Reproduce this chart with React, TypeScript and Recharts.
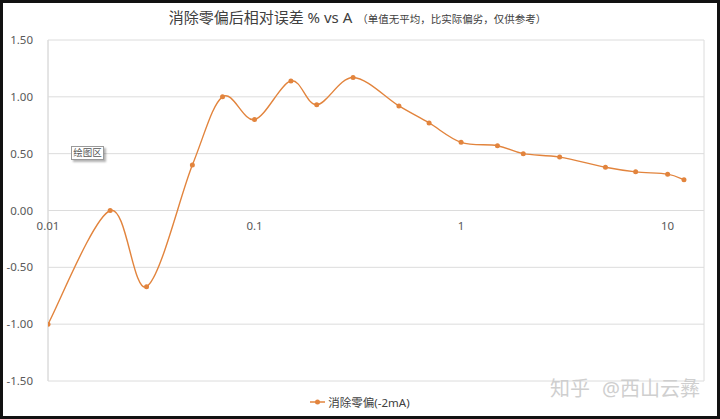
import React from 'react';
import { LineChart, Line, XAxis, YAxis, CartesianGrid, ReferenceDot, Legend } from 'recharts';

// Current in A (log axis) and relative error in % after zero-offset removal
const currents = [0.01, 0.02, 0.03, 0.05, 0.07, 0.1, 0.15, 0.2, 0.3, 0.5, 0.7, 1, 1.5, 2, 3, 5, 7, 10, 12];
const relErrors = [-1.0, 0.0, -0.67, 0.4, 1.0, 0.8, 1.14, 0.93, 1.17, 0.92, 0.77, 0.6, 0.57, 0.5, 0.47, 0.38, 0.34, 0.32, 0.27];
const xTicks = [0.01, 0.1, 1, 10];
const yTicks = [-1.5, -1.0, -0.5, 0, 0.5, 1.0, 1.5];
const seriesName = '消除零偏(-2mA)';

const rows = currents.map((a, i) => ({ a, err: relErrors[i] }));

const ORANGE = '#E2843D';
const GRID = '#DCDCDC';
const TEXT = '#595959';
const FONT = '"Noto Sans", "Noto Sans CJK SC", sans-serif';

// Spreadsheet-style smoothed line: Catmull-Rom segments through every point
function smoothCurve(context: any) {
  let pts: [number, number][] = [];
  return {
    areaStart() {},
    areaEnd() {},
    lineStart() {
      pts = [];
    },
    point(x: number, y: number) {
      pts.push([+x, +y]);
    },
    lineEnd() {
      const n = pts.length;
      if (!n) return;
      context.moveTo(pts[0][0], pts[0][1]);
      for (let i = 0; i < n - 1; i++) {
        const p0 = pts[Math.max(0, i - 1)];
        const p1 = pts[i];
        const p2 = pts[i + 1];
        const p3 = pts[Math.min(n - 1, i + 2)];
        context.bezierCurveTo(
          p1[0] + (p2[0] - p0[0]) / 6,
          p1[1] + (p2[1] - p0[1]) / 6,
          p2[0] - (p3[0] - p1[0]) / 6,
          p2[1] - (p3[1] - p1[1]) / 6,
          p2[0],
          p2[1]
        );
      }
    },
  };
}

const LegendContent = () => (
  <div style={{ display: 'flex', justifyContent: 'center', alignItems: 'center', height: 18, fontFamily: FONT, fontSize: 11.5, color: '#404040' }}>
    <svg width={15} height={8} style={{ marginRight: 3 }}>
      <line x1={0} y1={4} x2={15} y2={4} stroke={ORANGE} strokeWidth={1.5} />
      <circle cx={7.5} cy={4} r={2.5} fill={ORANGE} />
    </svg>
    <span>{seriesName}</span>
  </div>
);

export default function App() {
  return (
    <div style={{ position: 'absolute', left: 0, top: 0, width: 720, height: 419, background: '#fff', overflow: 'hidden' }}>
      <div
        style={{
          position: 'absolute',
          top: 6,
          left: 0,
          width: 715,
          textAlign: 'center',
          fontFamily: FONT,
          color: '#404040',
          lineHeight: '22px',
          whiteSpace: 'nowrap',
        }}
      >
        <span style={{ fontSize: 15 }}>消除零偏后相对误差 % vs A</span>
        <span style={{ fontSize: 10.5, marginLeft: 5 }}>（单值无平均，比实际偏劣，仅供参考）</span>
      </div>
      <LineChart width={720} height={419} data={rows} margin={{ top: 40, right: 16, bottom: 20, left: 0 }}>
        <CartesianGrid stroke={GRID} horizontal vertical />
        <XAxis
          dataKey="a"
          type="number"
          scale="log"
          domain={[0.01, 15]}
          ticks={xTicks}
          allowDataOverflow
          tick={false}
          tickLine={false}
          axisLine={false}
          height={0}
        />
        <YAxis
          type="number"
          domain={[-1.5, 1.5]}
          ticks={yTicks}
          width={48}
          tickSize={0}
          tickMargin={15}
          axisLine={{ stroke: GRID }}
          tickLine={false}
          tick={{ fill: TEXT, fontSize: 11.5, fontFamily: FONT }}
          tickFormatter={(v: number) => v.toFixed(2)}
        />
        {xTicks.map((t) => (
          <ReferenceDot
            key={t}
            x={t}
            y={0}
            r={1}
            fill="none"
            stroke="none"
            label={{ value: String(t), position: 'bottom', offset: 10, fill: TEXT, fontSize: 11.5, fontFamily: FONT }}
          />
        ))}
        <Line
          dataKey="err"
          name={seriesName}
          type={smoothCurve as any}
          stroke={ORANGE}
          strokeWidth={1.4}
          dot={{ r: 2.5, fill: ORANGE, stroke: ORANGE, strokeWidth: 0 }}
          activeDot={false}
          isAnimationActive={false}
        />
        <Legend verticalAlign="bottom" content={<LegendContent />} wrapperStyle={{ bottom: 8, left: 0, width: 720 }} />
      </LineChart>
      <div
        style={{
          position: 'absolute',
          left: 71,
          top: 146,
          width: 31,
          height: 12,
          border: '1px solid #9a9a9a',
          background: '#fff',
          boxShadow: '2px 2px 2px rgba(0,0,0,0.3)',
          fontFamily: FONT,
          fontSize: 9.5,
          lineHeight: '12px',
          textAlign: 'center',
          color: '#555',
        }}
      >
        绘图区
      </div>
      <div
        style={{
          position: 'absolute',
          right: 20,
          top: 376,
          fontFamily: FONT,
          fontSize: 20,
          color: '#cfcfcf',
          whiteSpace: 'nowrap',
          lineHeight: '26px',
        }}
      >
        <span style={{ marginRight: 12 }}>知乎</span>@西山云彝
      </div>
      <div
        style={{
          position: 'absolute',
          left: 0,
          top: 0,
          width: 720,
          height: 419,
          boxSizing: 'border-box',
          border: '3px solid #111',
          pointerEvents: 'none',
        }}
      />
    </div>
  );
}
